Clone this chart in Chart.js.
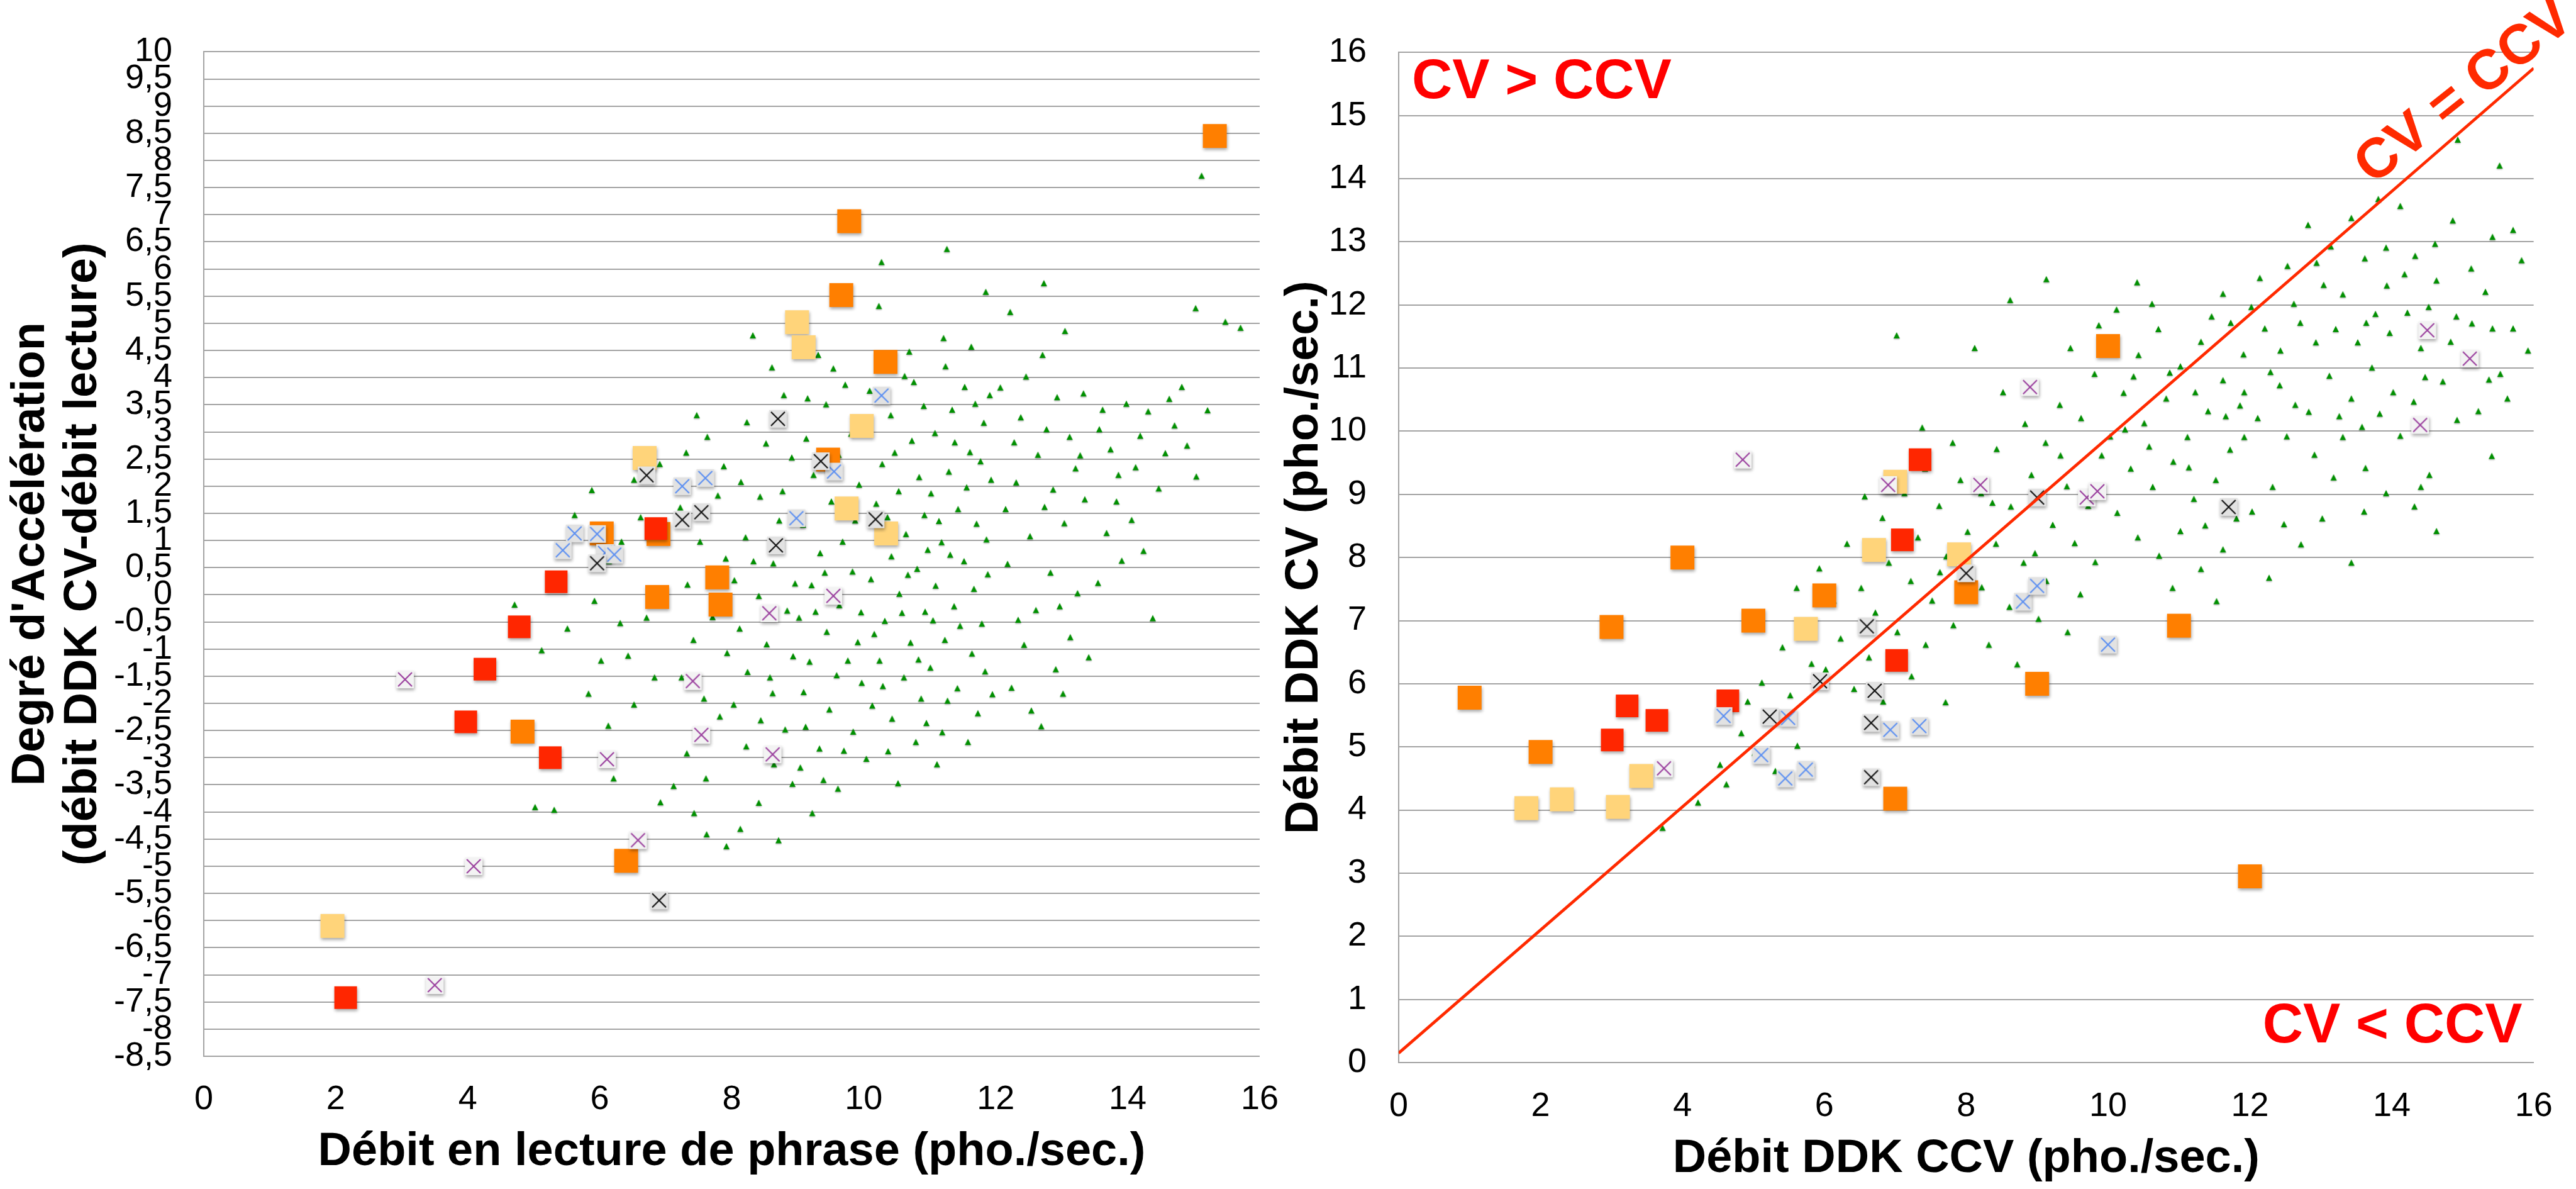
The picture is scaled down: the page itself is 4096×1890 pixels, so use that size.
<!DOCTYPE html>
<html>
<head>
<meta charset="utf-8">
<script src="https://cdn.jsdelivr.net/npm/chart.js@4.4.1/dist/chart.umd.min.js"></script>
<style>
  html, body { margin: 0; padding: 0; background: #fff; }
  body { width: 4096px; height: 1890px; position: relative; overflow: hidden; }
  canvas { position: absolute; top: 0; }
  #lect { left: 0; }
  #ddk { left: 1990px; }
</style>
</head>
<body>
<canvas id="lect" width="2070" height="1890"></canvas>
<canvas id="ddk" width="2106" height="1890"></canvas>
<script>
// ---------------- data: left panel (lecture vs accélération) ----------------
const lectOrange = [[15.32,8.45],[9.78,6.88],[9.66,5.52],[10.33,4.29],[9.46,2.49],[6.03,1.13],[6.89,1.12],
  [7.78,0.32],[6.87,-0.04],[7.83,-0.18],[4.83,-2.52],[6.40,-4.90]];
const lectYellow = [[8.99,5.02],[9.09,4.56],[9.97,3.11],[6.68,2.52],[9.74,1.59],[10.34,1.13],[1.95,-6.1]];
const lectRed = [[6.85,1.22],[5.34,0.24],[4.78,-0.59],[4.26,-1.37],[3.97,-2.34],[5.25,-3.00],[2.15,-7.42]];
const lectBlackX = [[8.70,3.24],[9.35,2.46],[10.18,1.39],[8.67,0.91],[7.54,1.52],[7.25,1.38],[6.71,2.20],
  [5.96,0.58],[6.9,-5.63]];
const lectBlueX = [[10.27,3.67],[9.55,2.27],[8.98,1.41],[7.25,2.00],[7.60,2.15],[5.62,1.13],[5.96,1.12],
  [5.44,0.82],[6.08,0.77],[6.22,0.74]];
const lectPurpleX = [[9.54,-0.02],[8.57,-0.34],[3.05,-1.56],[7.41,-1.59],[7.54,-2.58],[6.11,-3.03],[8.62,-2.94],
  [6.58,-4.52],[4.09,-5.0],[3.50,-7.19]];
const lectGreen = [
  // outliers, top
  [15.12,7.72],[10.27,6.13],[11.26,6.37],[12.73,5.74],[11.85,5.58],[15.48,5.03],[15.71,4.92],[15.03,5.28],
  [12.22,5.21],[13.05,4.86],
  // x 13.5 - 15.5
  [13.62,3.41],[13.74,2.68],[13.98,3.52],[14.31,3.38],[14.63,3.61],[14.82,3.83],[14.19,2.93],[14.57,2.61],
  [15.04,2.18],[14.47,1.96],[13.83,1.72],[14.06,1.38],[13.91,0.63],[14.24,0.81],[13.55,0.22],[14.38,-0.43],
  [14.12,2.35],[13.68,1.14],[14.71,3.12],[13.86,2.21],[13.57,3.05],[14.9,2.75],[15.21,3.4],
  // x 12 - 13.5
  [12.71,4.42],[12.93,3.64],[12.38,3.27],[13.12,2.91],[12.64,2.58],[13.21,2.33],[12.31,2.07],[12.87,1.94],
  [13.04,1.32],[12.52,1.08],[12.18,0.57],[12.83,0.41],[13.24,0.03],[12.61,-0.28],[12.43,-0.92],[12.91,-1.37],
  [12.24,-1.71],[12.54,-2.13],[13.02,-1.82],[13.13,-0.78],[12.07,3.82],[12.46,4.02],[13.33,3.71],[12.15,1.58],
  [12.74,1.62],[13.35,1.76],[12.34,-0.46],[12.97,-0.21],[13.41,-1.15],[12.69,-2.42],[12.28,2.81],[12.77,3.05],
  [13.28,2.57],
  // x 11 - 12
  [11.24,4.21],[11.53,3.83],[11.82,3.17],[11.08,2.98],[11.61,2.63],[11.29,2.27],[11.93,2.12],[11.02,1.87],
  [11.43,1.58],[11.71,1.31],[11.18,0.97],[11.52,0.62],[11.88,0.38],[11.09,0.17],[11.37,-0.21],[11.79,-0.53],
  [11.23,-0.83],[11.64,-1.08],[11.01,-1.34],[11.42,-1.72],[11.73,-2.18],[11.19,-2.53],[11.91,3.68],[11.63,4.57],
  [11.34,3.41],[11.77,2.46],[11.14,1.36],[11.56,1.98],[11.86,1.02],[11.31,0.74],[11.67,0.11],[11.46,-0.57],
  [11.05,-0.47],[11.84,-1.41],[11.27,-1.95],[11.58,-2.71],[11.11,-3.12],[11.95,-1.83],[11.38,2.81],[11.69,3.52],
  [11.21,4.73],
  // x 10 - 11
  [10.23,5.32],[10.62,4.03],[10.91,3.48],[10.41,3.31],[10.73,2.84],[10.28,2.41],[10.84,2.17],[10.53,1.91],
  [10.92,1.47],[10.19,1.68],[10.64,1.12],[10.42,0.71],[10.81,0.48],[10.11,0.29],[10.54,0.02],[10.93,-0.31],
  [10.32,-0.48],[10.71,-0.88],[10.24,-1.21],[10.61,-1.52],[10.87,-1.91],[10.43,-2.28],[10.79,-2.71],[10.13,-2.04],
  [10.52,-3.47],[10.04,-3.02],[10.67,0.37],[10.36,1.43],[10.97,0.83],[10.16,-0.72],[10.83,-1.19],[10.47,2.62],
  [10.09,3.76],[10.76,3.92],[10.58,-0.33],[10.29,-1.68],[10.95,-2.36],[10.37,-2.88],[10.69,4.48],
  // x 9 - 10
  [9.31,4.42],[9.72,3.87],[9.43,3.51],[9.81,2.97],[9.13,2.88],[9.62,2.58],[9.24,2.21],[9.93,2.03],[9.51,1.72],
  [9.08,1.29],[9.68,0.98],[9.34,0.77],[9.83,0.43],[9.21,0.18],[9.63,-0.19],[9.02,-0.42],[9.44,-0.68],[9.91,-0.87],
  [9.18,-1.23],[9.59,-1.48],[9.09,-1.79],[9.48,-2.11],[9.84,-2.52],[9.33,-2.83],[9.04,-3.18],[9.61,-3.57],
  [9.22,-4.02],[9.76,-1.21],[9.41,0.41],[9.96,-0.32],[9.27,-0.31],[9.87,1.37],[9.15,3.62],[9.54,4.17],
  [9.39,-3.41],[9.7,-2.87],[9.12,-2.43],[9.97,-1.62],
  // x 8 - 9
  [8.32,4.78],[8.61,4.19],[8.79,3.68],[8.23,3.18],[8.52,2.79],[8.91,2.53],[8.14,2.08],[8.43,1.81],[8.72,1.37],
  [8.21,1.06],[8.63,0.58],[8.04,0.27],[8.41,-0.02],[8.84,-0.29],[8.12,-0.62],[8.53,-0.91],[8.93,-1.13],
  [8.24,-1.42],[8.62,-1.81],[8.03,-2.02],[8.44,-2.31],[8.81,-2.48],[8.22,-2.79],[8.64,-3.12],[8.92,-3.48],
  [8.41,-3.83],[8.71,-4.52],[8.13,-4.31],[8.96,0.21],[8.33,0.62],[8.77,1.91],[8.58,-1.52],
  // x 7 - 8
  [7.63,2.91],[7.88,2.37],[7.31,2.62],[7.79,1.83],[7.22,1.61],[7.52,0.98],[7.91,0.67],[7.33,0.19],[7.71,-0.41],
  [7.42,-0.83],[7.93,-1.07],[7.24,-1.52],[7.58,-1.91],[7.82,-2.24],[7.32,-2.92],[7.61,-3.38],[7.43,-4.02],
  [7.62,-4.41],[7.92,-4.63],[7.12,-3.52],[7.47,3.31],
  // x < 7
  [6.91,2.41],[6.62,1.43],[6.33,0.98],[6.52,2.12],[6.14,0.62],[5.92,-0.11],[6.31,-0.52],[6.02,-1.21],
  [5.51,-0.62],[5.83,-1.82],[6.13,-2.41],[6.52,-2.02],[6.83,-1.52],[6.21,-3.38],[5.02,-3.91],[5.31,-3.96],
  [6.92,-3.82],[5.62,1.47],[5.88,1.93],[4.71,-0.18],[5.12,-1.02],[6.71,-0.42],[6.43,-1.12]
];

// ---------------- data: right panel (DDK CCV vs DDK CV) ----------------
const ddkOrange = [[1.0,5.78],[2.0,4.92],[3.0,6.90],[4.0,8.0],[5.0,7.0],[6.0,7.4],[8.0,7.45],[9.0,6.0],
  [7.0,4.18],[10.0,11.35],[11.0,6.92],[12.0,2.95]];
const ddkYellow = [[1.8,4.03],[2.3,4.17],[3.09,4.05],[3.42,4.54],[5.74,6.87],[6.7,8.12],[7.0,9.2],[7.9,8.05]];
const ddkRed = [[3.01,5.11],[3.22,5.65],[3.64,5.42],[4.64,5.73],[7.02,6.37],[7.1,8.28],[7.35,9.55]];
const ddkBlackX = [[6.60,6.91],[5.94,6.04],[6.71,5.89],[5.23,5.48],[6.66,5.38],[6.66,4.52],[8.0,7.75],
  [9.0,8.95],[11.7,8.8]];
const ddkBlueX = [[4.58,5.49],[5.49,5.46],[6.93,5.27],[7.34,5.33],[5.11,4.87],[5.74,4.64],[5.45,4.50],
  [8.8,7.3],[9.0,7.55],[10.0,6.62]];
const ddkPurpleX = [[3.74,4.66],[4.85,9.55],[6.9,9.15],[8.2,9.15],[8.9,10.7],[9.7,8.95],[9.85,9.05],
  [14.5,11.6],[15.1,11.15],[14.4,10.1]];
const ddkGreen = [
  // top
  [14.93,14.62],[15.52,14.21],[13.81,13.68],[14.12,13.57],[13.43,13.38],[12.82,13.27],[13.14,12.93],[15.71,13.19],
  [15.42,13.08],[14.61,12.97],[14.33,12.78],[13.92,12.91],[12.53,12.62],[12.14,12.43],[15.83,12.71],[14.86,13.34],
  [13.62,12.74],[15.12,12.58],[12.94,12.67],
  // core x 12 - 16
  [11.62,12.18],[10.41,12.36],[12.21,11.63],[12.62,12.02],[12.93,11.41],[13.31,12.17],[13.64,11.72],[13.93,12.31],
  [14.22,11.88],[14.63,12.39],[14.91,11.82],[15.32,12.21],[15.71,11.63],[15.92,11.28],[15.53,10.91],[15.11,11.24],
  [14.72,10.79],[14.41,11.32],[14.02,10.62],[13.72,11.01],[13.43,10.52],[13.12,10.88],[12.83,10.31],[12.42,10.73],
  [12.11,10.21],[12.52,9.92],[12.91,9.63],[13.31,9.91],[13.63,9.42],[14.12,9.93],[14.53,9.31],[15.22,10.32],
  [15.63,10.52],[12.32,9.12],[13.83,10.28],[14.31,10.47],[13.52,11.41],[12.71,11.72],[14.83,11.42],[15.42,11.63],
  [12.43,11.28],[13.21,11.62],[13.97,11.56],[14.52,11.97],[15.13,11.71],[12.02,11.97],[13.04,12.32],[14.18,12.49],
  [11.92,10.62],[12.64,10.42],[13.58,10.07],[14.92,10.18],[15.37,10.82],[13.26,10.24],[14.47,10.86],[12.29,10.94],
  [13.77,11.86],
  // x 10 - 12
  [10.12,11.93],[10.43,11.21],[10.71,11.62],[11.02,11.03],[11.31,11.42],[11.62,10.81],[11.91,11.22],[10.22,10.61],
  [10.51,10.13],[10.82,10.52],[11.12,9.91],[11.41,10.32],[11.72,9.71],[10.03,9.92],[10.32,9.41],[10.63,9.12],
  [10.92,9.52],[11.21,8.93],[11.52,9.23],[11.81,8.62],[10.13,8.71],[10.42,8.32],[10.72,8.03],[11.02,8.42],
  [11.31,7.82],[11.62,8.13],[10.91,7.52],[11.53,7.31],[11.92,9.91],[11.73,11.72],[10.62,12.02],[11.23,10.62],
  [10.87,10.93],[11.46,11.82],[10.36,10.87],[11.14,9.43],[11.66,10.24],[10.58,9.76],[11.37,8.51],[10.24,10.03],
  [11.86,10.41],
  // below the line, x 12 - 15.5
  [14.32,8.81],[13.92,9.02],[13.02,8.62],[12.72,8.21],[13.43,7.92],[12.03,8.73],[14.41,9.12],[12.48,8.53],
  [13.61,8.73],[15.41,9.61],[14.63,8.42],[12.27,7.68],[13.18,9.27],
  // x 8 - 10
  [8.12,11.32],[9.81,10.91],[9.32,10.42],[8.83,10.12],[9.62,10.21],[9.12,9.82],[9.91,9.62],[8.43,9.72],
  [8.92,9.31],[9.42,9.13],[9.72,8.82],[8.21,9.02],[8.63,8.81],[9.22,8.52],[9.53,8.23],[8.02,8.41],[8.42,8.22],
  [8.81,7.92],[9.13,7.63],[9.61,7.42],[8.22,7.53],[8.61,7.22],[9.02,7.03],[9.43,6.82],[8.32,6.62],[8.72,6.31],
  [9.82,7.93],[8.62,12.08],[9.13,12.41],[8.52,10.62],[9.47,11.32],[9.87,11.68],[8.97,8.07],[9.33,9.62],[8.37,8.87],
  // x 6 - 8
  [7.02,11.52],[7.81,9.82],[7.42,9.41],[7.13,9.02],[7.62,8.82],[7.92,9.23],[6.82,8.63],[7.32,8.32],[7.72,8.02],
  [6.91,7.92],[7.22,7.63],[7.52,7.32],[6.52,7.52],[6.72,7.13],[7.03,6.82],[7.43,6.62],[7.82,6.93],[6.23,6.72],
  [6.63,6.42],[6.02,6.23],[6.42,5.92],[6.83,5.72],[7.23,6.12],[6.32,8.22],[5.93,7.83],[6.13,7.32],[7.63,7.77],
  [7.38,10.06],[7.71,5.71],[6.57,8.97],
  // x < 6
  [4.62,4.41],[4.53,4.72],[5.02,4.91],[5.31,4.62],[5.62,5.02],[5.22,5.42],[5.52,5.82],[5.82,6.32],[5.12,6.02],
  [5.61,7.52],[4.92,5.72],[3.72,3.72],[5.82,4.72],[4.22,4.12],[4.83,5.22],[5.41,6.58]
];
// CV = CCV reference line, read at both ends
const diagX = [0, 16];
const diagY = [0.15, 15.75];

// ---------------- styling ----------------
const FONT = '"Liberation Sans", Arial, Helvetica, sans-serif';
const tickFont = { family: FONT, size: 54 };
const titleFont = { family: FONT, size: 74, weight: 'bold', lineHeight: 1.12 };
const gridCol = '#a3a3a3';

function pts(list) { return list.map(([x, y]) => ({ x, y })); }

// square marker (optionally with a cross), with a soft drop shadow
function marker(fill, size, cross) {
  const pad = 8;
  const c = document.createElement('canvas');
  c.width = c.height = size + pad * 2;
  const g = c.getContext('2d');
  g.shadowColor = 'rgba(0,0,0,0.35)';
  g.shadowBlur = 5;
  g.shadowOffsetX = 1;
  g.shadowOffsetY = 3;
  g.fillStyle = fill;
  g.fillRect(pad, pad, size, size);
  if (cross) {
    g.shadowColor = 'transparent';
    g.strokeStyle = cross;
    g.lineWidth = 2.2;
    const m = 3;
    g.beginPath();
    g.moveTo(pad + m, pad + m); g.lineTo(pad + size - m, pad + size - m);
    g.moveTo(pad + size - m, pad + m); g.lineTo(pad + m, pad + size - m);
    g.stroke();
  }
  return c;
}

// small green triangle with a faint shadow
function tri(fill, w, h) {
  const pad = 4;
  const c = document.createElement('canvas');
  c.width = w + pad * 2;
  c.height = h + pad * 2;
  const g = c.getContext('2d');
  g.shadowColor = 'rgba(0,0,0,0.3)';
  g.shadowBlur = 2;
  g.shadowOffsetY = 1.5;
  g.fillStyle = fill;
  g.beginPath();
  g.moveTo(pad + w / 2, pad);
  g.lineTo(pad + w, pad + h);
  g.lineTo(pad, pad + h);
  g.closePath();
  g.fill();
  return c;
}

const mOrange = marker('#ff7f00', 38);
const mYellow = marker('#ffd47a', 38);
const mRed = marker('#ff2600', 36);
const mBlackX = marker('#e2e2e2', 28, '#111111');
const mBlueX = marker('#e2e2e2', 28, '#5b8ff2');
const mPurpleX = marker('#f3f3f3', 28, '#9a3f9e');
const mGreen = tri('#008f00', 10, 10);

function sets(green, orange, yellow, red, blueX, blackX, purpleX) {
  const img = (data, style, order) => ({ data: pts(data), pointStyle: style, pointRadius: 10, order });
  return [
    img(purpleX, mPurpleX, 1),
    img(blackX, mBlackX, 2),
    img(blueX, mBlueX, 3),
    img(red, mRed, 4),
    img(yellow, mYellow, 5),
    img(orange, mOrange, 6),
    img(green, mGreen, 7)
  ];
}

const fmt = v => String(Math.round(v * 10) / 10).replace('.', ',');

function axes(o) {
  return {
    x: {
      type: 'linear', min: 0, max: 16,
      ticks: { stepSize: 2, font: tickFont, color: '#000', padding: o.xPad, maxRotation: 0 },
      grid: { display: false, drawTicks: false },
      border: { display: true, color: gridCol, width: 2 },
      title: { display: true, text: o.xTitle, font: titleFont, color: '#000', padding: { top: 0, bottom: o.xTitlePad } },
      afterFit: s => { s.height = o.xHeight; }
    },
    y: {
      type: 'linear', min: o.yMin, max: o.yMax,
      ticks: { stepSize: o.yStep, autoSkip: false, font: tickFont, color: '#000', padding: o.yPad, callback: fmt },
      grid: { color: gridCol, lineWidth: 2, drawTicks: false },
      border: { display: true, color: gridCol, width: 2 },
      title: { display: true, text: o.yTitle, font: titleFont, color: '#000', padding: { top: o.yTitlePad, bottom: 0 } },
      afterFit: s => { s.width = o.yWidth; }
    }
  };
}

// ---------------- left chart ----------------
new Chart(document.getElementById('lect'), {
  type: 'scatter',
  data: { datasets: sets(lectGreen, lectOrange, lectYellow, lectRed, lectBlueX, lectBlackX, lectPurpleX) },
  options: {
    responsive: false, animation: false,
    layout: { padding: { top: 77, right: 51, left: 0, bottom: 0 } },
    plugins: { legend: { display: false }, tooltip: { enabled: false } },
    scales: axes({
      xTitle: 'Débit en lecture de phrase (pho./sec.)', xPad: 37, xTitlePad: 17, xHeight: 211,
      yTitle: ["Degré d'Accélération", '(débit DDK CV-débit lecture)'], yTitlePad: 8,
      yMin: -8.5, yMax: 10, yStep: 0.5, yPad: 50, yWidth: 324
    })
  }
});

// ---------------- right chart ----------------
const notes = {
  id: 'notes',
  afterDatasetsDraw(chart) {
    const { ctx, chartArea: a, scales: { x, y } } = chart;
    ctx.save();
    ctx.font = 'bold 89px ' + FONT;
    ctx.textBaseline = 'alphabetic';
    ctx.fillStyle = '#ff0000';
    ctx.textAlign = 'left';
    ctx.fillText('CV > CCV', a.left + 21, a.top + 73);
    ctx.textAlign = 'right';
    ctx.fillText('CV < CCV', a.right - 18, a.bottom - 32);
    ctx.translate(x.getPixelForValue(13.73), y.getPixelForValue(13.89));
    ctx.rotate(-38.5 * Math.PI / 180);
    ctx.textAlign = 'left';
    ctx.fillStyle = '#ff2a00';
    ctx.fillText('CV = CCV', 0, 0);
    ctx.restore();
  }
};

const ddkSets = sets(ddkGreen, ddkOrange, ddkYellow, ddkRed, ddkBlueX, ddkBlackX, ddkPurpleX);
ddkSets.push({
  data: diagX.map((x, i) => ({ x, y: diagY[i] })), showLine: true, pointRadius: 0,
  borderColor: '#ff2a00', borderWidth: 4.7, order: 0
});

new Chart(document.getElementById('ddk'), {
  type: 'scatter',
  data: { datasets: ddkSets },
  options: {
    responsive: false, animation: false,
    layout: { padding: { top: 41, right: 30, left: 0, bottom: 0 } },
    plugins: { legend: { display: false }, tooltip: { enabled: false } },
    scales: axes({
      xTitle: 'Débit DDK CCV (pho./sec.)', xPad: 37.3, xTitlePad: 6, xHeight: 201,
      yTitle: 'Débit DDK CV (pho./sec.)', yTitlePad: 43.6,
      yMin: 0, yMax: 16, yStep: 1, yPad: 51, yWidth: 234
    })
  },
  plugins: [notes]
});
</script>
</body>
</html>
